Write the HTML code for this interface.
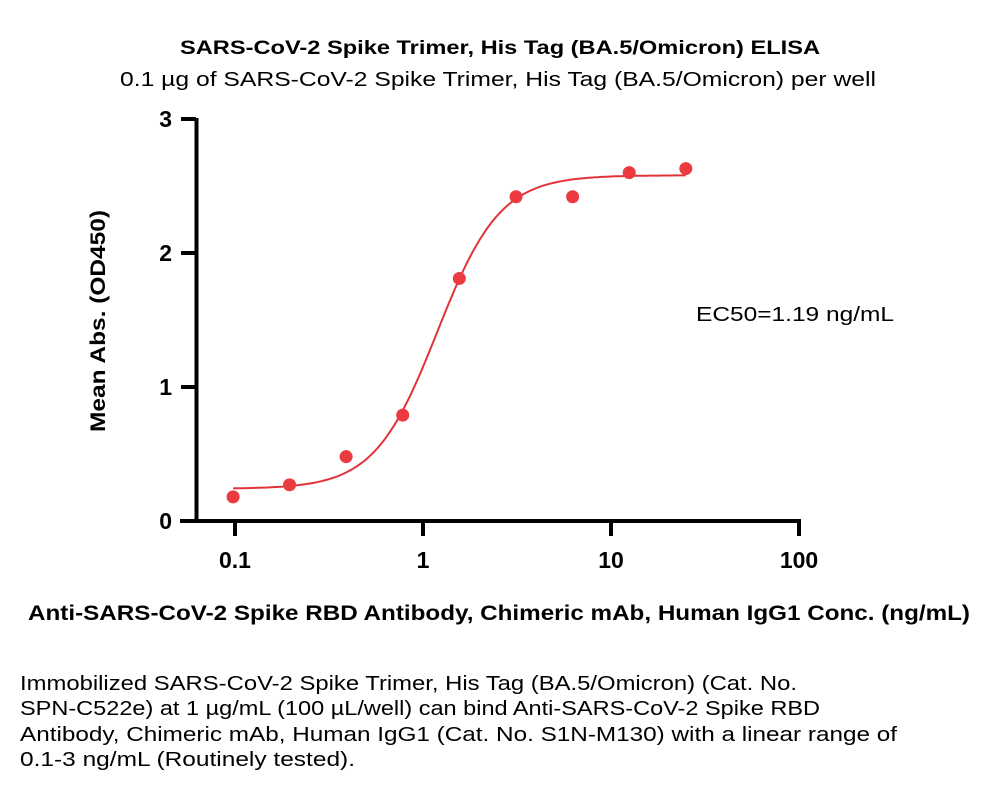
<!DOCTYPE html>
<html><head><meta charset="utf-8"><style>
body{margin:0;background:#fff}
svg{display:block;font-family:"Liberation Sans",Arial,sans-serif}
</style></head><body>
<svg id="chart" width="1000" height="786" viewBox="0 0 1000 786">
<text x="500" y="54" text-anchor="middle" font-size="19" font-weight="bold" textLength="640" lengthAdjust="spacingAndGlyphs">SARS-CoV-2 Spike Trimer, His Tag (BA.5/Omicron) ELISA</text>
<text x="498" y="86" text-anchor="middle" font-size="20" textLength="756" lengthAdjust="spacingAndGlyphs">0.1 µg of SARS-CoV-2 Spike Trimer, His Tag (BA.5/Omicron) per well</text>
<text transform="translate(105,321) rotate(-90)" text-anchor="middle" font-size="21" font-weight="bold" textLength="222" lengthAdjust="spacingAndGlyphs">Mean Abs. (OD450)</text>
<text x="499" y="620" text-anchor="middle" font-size="21" font-weight="bold" textLength="942" lengthAdjust="spacingAndGlyphs">Anti-SARS-CoV-2 Spike RBD Antibody, Chimeric mAb, Human IgG1 Conc. (ng/mL)</text>
<text x="696" y="321" font-size="20" textLength="198" lengthAdjust="spacingAndGlyphs">EC50=1.19 ng/mL</text>
<g font-size="20">
<text x="20" y="690" textLength="777" lengthAdjust="spacingAndGlyphs">Immobilized SARS-CoV-2 Spike Trimer, His Tag (BA.5/Omicron) (Cat. No.</text>
<text x="20" y="715" textLength="800" lengthAdjust="spacingAndGlyphs">SPN-C522e) at 1 µg/mL (100 µL/well) can bind Anti-SARS-CoV-2 Spike RBD</text>
<text x="20" y="741" textLength="877" lengthAdjust="spacingAndGlyphs">Antibody, Chimeric mAb, Human IgG1 (Cat. No. S1N-M130) with a linear range of</text>
<text x="20" y="766" textLength="335" lengthAdjust="spacingAndGlyphs">0.1-3 ng/mL (Routinely tested).</text>
</g>
<g id="axes"></g>
<g id="marks"></g>
</svg>
<script>
const concs=[0.0977,0.195,0.39,0.78,1.56,3.125,6.25,12.5,25];
const odValues=[0.18,0.27,0.48,0.79,1.81,2.42,2.42,2.60,2.63];
const yTicks=[0,1,2,3];
const xTicks=[0.1,1,10,100];
const xTickLabels=["0.1","1","10","100"];
const fitBottom=0.24, fitTop=2.58, fitEC50=1.19, fitHill=2.6;

const NS="http://www.w3.org/2000/svg";
const X=v=>235+188*Math.log10(v/0.1);
const Y=v=>521-134*v;
function mk(tag,attrs,parent){const e=document.createElementNS(NS,tag);for(const k in attrs)e.setAttribute(k,attrs[k]);parent.appendChild(e);return e;}
const axes=document.getElementById('axes'), marks=document.getElementById('marks');
let yl=mk('line',{x1:196.5,y1:Y(3)-1,x2:196.5,y2:523,stroke:'#000','stroke-width':4},axes);


let xl=mk('line',{x1:180,y1:521,x2:801,y2:521,stroke:'#000','stroke-width':4},axes);


yTicks.forEach(t=>{
 let l=mk('line',{x1:181,y1:Y(t),x2:196,y2:Y(t),stroke:'#000','stroke-width':4},axes);
 
 
 let tx=mk('text',{x:172,y:Y(t)+8,'text-anchor':'end','font-size':23,'font-weight':'bold'},axes);
 tx.textContent=t;
 
 
});
xTicks.forEach((t,i)=>{
 let l=mk('line',{x1:X(t),y1:521,x2:X(t),y2:536,stroke:'#000','stroke-width':4},axes);
 
 
 let tx=mk('text',{x:X(t),y:568,'text-anchor':'middle','font-size':23,'font-weight':'bold'},axes);
 tx.textContent=xTickLabels[i];
 
 
});
let d='';
const lo=Math.log10(concs[0]),hi=Math.log10(concs[concs.length-1]);
for(let i=0;i<=200;i++){const lx=lo+(hi-lo)*i/200,c=Math.pow(10,lx);
 const y=fitBottom+(fitTop-fitBottom)/(1+Math.pow(fitEC50/c,fitHill));
 d+=(i?'L':'M')+X(c).toFixed(1)+','+Y(y).toFixed(1);}
let p=mk('path',{d:d,fill:'none',stroke:'#e0333a','stroke-width':2},marks);


concs.forEach((c,i)=>{
 let ci=mk('circle',{cx:X(c),cy:Y(odValues[i]),r:6.5,fill:'#eb3a40'},marks);
 
 
});
</script>
</body></html>
